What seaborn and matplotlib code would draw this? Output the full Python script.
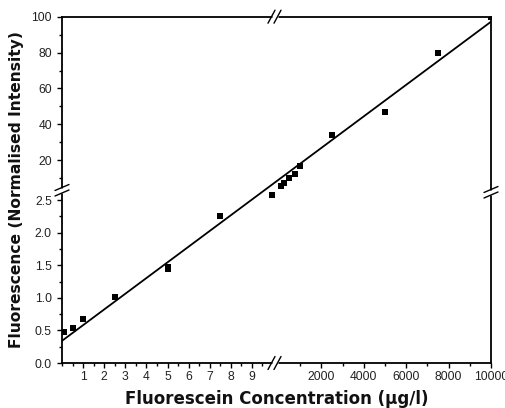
import matplotlib
matplotlib.use("Agg")
import matplotlib.pyplot as plt
import numpy as np
import pandas
import seaborn as sns

# Calibration points
conc_low = [0.1, 0.5, 1.0, 2.5, 5.0, 5.0, 7.5, 9.95]
fluor_low = [0.48, 0.53, 0.68, 1.02, 1.44, 1.48, 2.25, 2.58]
conc_high = [100, 250, 500, 750, 1000, 2500, 5000, 7500, 10000]
fluor_high = [5.6, 7.4, 10.1, 12.4, 16.6, 34.0, 46.9, 79.9, 100.0]

# Fitted calibration line (end points)
fit_conc = [0, 10000]
fit_fluor = [0.34, 97.2]

# Ticks
x_major = [1, 2, 3, 4, 5, 6, 7, 8, 9, 2000, 4000, 6000, 8000, 10000]
x_labels = ["1", "2", "3", "4", "5", "6", "7", "8", "9",
            "2000", "4000", "6000", "8000", "10000"]
x_minor = [0, 0.5, 1.5, 2.5, 3.5, 4.5, 5.5, 6.5, 7.5, 8.5, 9.5,
           1000, 3000, 5000, 7000, 9000]
y_major = [0.0, 0.5, 1.0, 1.5, 2.0, 2.5, 20, 40, 60, 80, 100]
y_labels = ["0.0", "0.5", "1.0", "1.5", "2.0", "2.5", "20", "40", "60", "80", "100"]
y_minor = [0.25, 0.75, 1.25, 1.75, 2.25, 10, 30, 50, 70, 90]

# Broken axis geometry (data value -> pixel position on the figure)
W, H = 505, 408
AX_L, AX_R, AX_B, AX_T = 62, 491, 363, 16.7
x_knots = [-1000, 0, 10, 30, 10000, 1000000]
x_px = [62 - 21100, 62, 273, 279.5, 491, 491 + 21210]
y_knots = [-100, 0, 2.62, 4.5, 100, 10000]
y_px = [-6520, 0, 170.8, 174.9, 346.3, 346.3 + 17770]


def fwd_x(v):
    return np.interp(v, x_knots, x_px)


def inv_x(v):
    return np.interp(v, x_px, x_knots)


def fwd_y(v):
    return np.interp(v, y_knots, y_px)


def inv_y(v):
    return np.interp(v, y_px, y_knots)


def to_axes(px, py):
    return (px - AX_L) / (AX_R - AX_L), (AX_B - py) / (AX_B - AX_T)


def break_pair(ax, centers, half):
    """
    Draw a '//' break symbol on a spine (pixel coordinates of the figure)
    """
    g0 = to_axes(*centers[0])
    g1 = to_axes(*centers[1])
    ax.plot([g0[0], g1[0]], [g0[1], g1[1]], color="white", lw=2.5,
            transform=ax.transAxes, clip_on=False, zorder=5,
            solid_capstyle="butt")
    for cx, cy in centers:
        p0 = to_axes(cx - half[0], cy + half[1])
        p1 = to_axes(cx + half[0], cy - half[1])
        ax.plot([p0[0], p1[0]], [p0[1], p1[1]], color="black", lw=1.0,
                transform=ax.transAxes, clip_on=False, zorder=6)


sns.set_style("ticks")
plt.rcParams["font.family"] = ["Liberation Sans", "DejaVu Sans"]

fig = plt.figure(figsize=(W / 100, H / 100), dpi=100)
ax = fig.add_axes([AX_L / W, (H - AX_B) / H, (AX_R - AX_L) / W, (AX_B - AX_T) / H])

df = pandas.DataFrame({
    "conc": conc_low + conc_high,
    "fluor": fluor_low + fluor_high,
})
fit = pandas.DataFrame({"conc": fit_conc, "fluor": fit_fluor})

sns.lineplot(data=fit, x="conc", y="fluor", color="black", lw=1.3,
             estimator=None, ax=ax)
sns.scatterplot(data=df, x="conc", y="fluor", marker="s", s=13,
                color="black", linewidth=0, ax=ax, zorder=4)

ax.set_xscale("function", functions=(fwd_x, inv_x))
ax.set_yscale("function", functions=(fwd_y, inv_y))
ax.set_xlim(0, 10000)
ax.set_ylim(0, 100)

ax.set_xticks(x_major)
ax.set_xticklabels(x_labels)
ax.set_xticks(x_minor, minor=True)
ax.set_yticks(y_major)
ax.set_yticklabels(y_labels)
ax.set_yticks(y_minor, minor=True)

ax.tick_params(which="both", direction="out", width=1.0, color="black",
               labelsize=8.7, labelcolor="#222222")
ax.tick_params(which="major", length=3.8)
ax.tick_params(which="minor", length=2.2)
ax.tick_params(axis="x", which="major", pad=2)
ax.tick_params(axis="y", which="major", pad=3.5)

for side in ["left", "right", "top", "bottom"]:
    ax.spines[side].set_visible(True)
    ax.spines[side].set_linewidth(1.3)
    ax.spines[side].set_color("black")

ax.set_xlabel("Fluorescein Concentration (μg/l)", fontsize=12,
              fontweight="bold", family="DejaVu Sans", labelpad=5,
              color="#111111")
ax.set_ylabel("Fluorescence (Normalised Intensity)", fontsize=11.2,
              fontweight="bold", family="DejaVu Sans", labelpad=5,
              color="#111111")

# Break symbols on the four spines
break_pair(ax, [(271.5, 363), (277.5, 363)], (3.5, 6.5))
break_pair(ax, [(271.5, 16.7), (277.5, 16.7)], (3.5, 6.5))
break_pair(ax, [(62, 187.5), (62, 193)], (7, 3))
break_pair(ax, [(491, 189.5), (491, 195)], (7, 3))

fig.savefig("out.png", dpi=100)
